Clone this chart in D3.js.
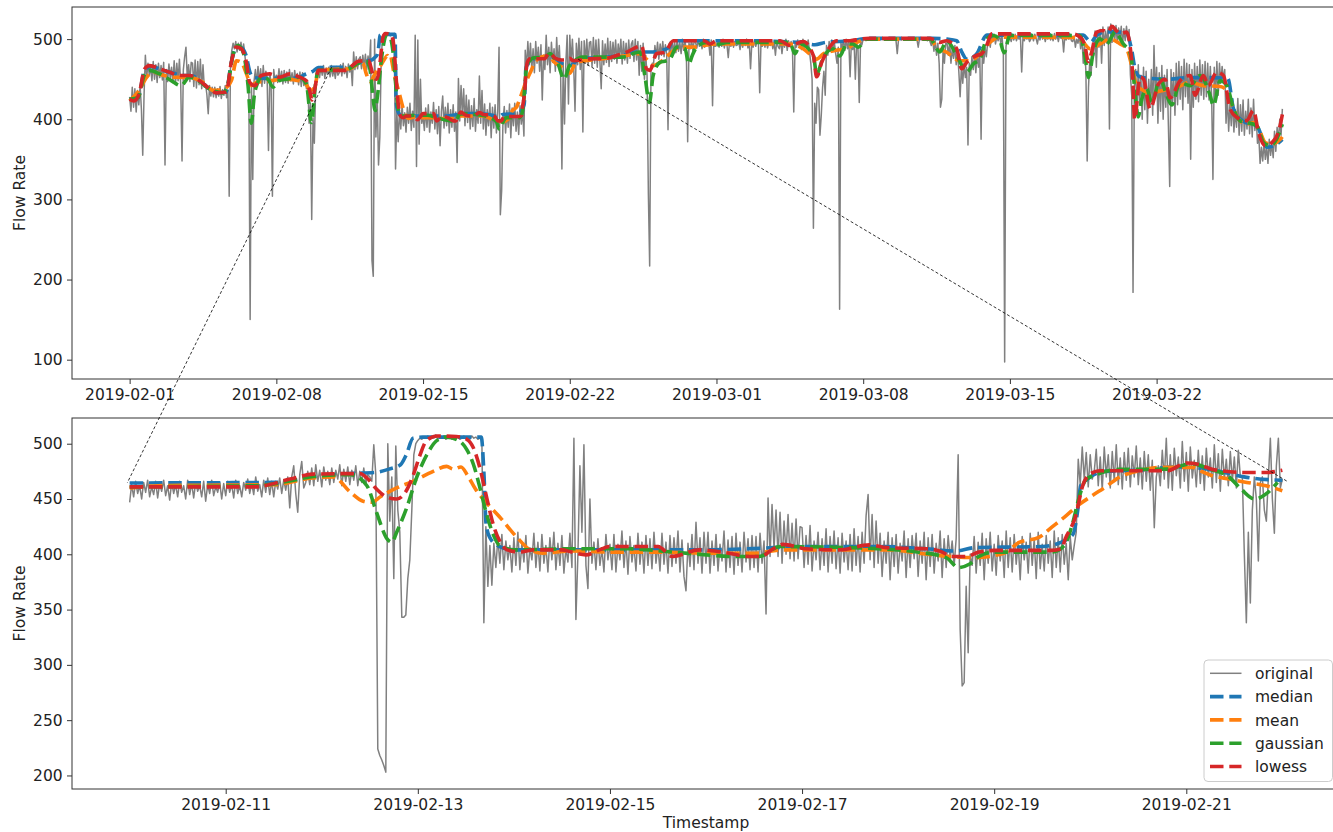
<!DOCTYPE html>
<html>
<head>
<meta charset="utf-8">
<script src="https://cdn.jsdelivr.net/npm/d3@7"></script>
<style>
  body { margin: 0; background: #fff; }
  svg { display: block; }
  text { font-family: "DejaVu Sans", sans-serif; }
</style>
</head>
<body>
<svg id="chart" width="1333" height="832"></svg>
<script>
// ---------------------------------------------------------------------------
// Flow-rate record, Feb 1 – Mar 28 2019, and four smoothed versions of it.
// ---------------------------------------------------------------------------
const recordStart = "2019-02-01";

// Full record, one reading every 1.5 hours (16 per day), Feb 1 00:00 .. Mar 28 00:00
const fullRaw = [
  428,410,440,415,438,409,436,418,442,412,355,430,480,452,470,455,
  466,448,472,450,468,446,470,452,467,449,471,343,462,447,469,451,
  465,446,473,444,470,448,475,443,348,462,478,490,452,468,447,471,
  470,441,474,439,472,443,475,438,468,440,444,430,407,442,429,440,
  428,440,427,438,429,441,426,437,430,442,427,436,304,470,486,495,
  488,497,484,495,486,496,483,494,480,462,445,438,150,444,325,448,
  462,444,466,446,463,441,467,445,460,448,361,458,444,304,462,447,
  455,446,463,447,460,444,461,446,459,445,462,448,458,444,461,447,
  457,443,459,441,458,442,450,438,446,395,420,275,402,370,440,458,
  463,452,466,455,467,451,464,456,465,453,467,454,463,451,466,455,
  458,468,454,470,457,466,452,469,459,467,442,484,462,478,463,475,
  478,463,480,465,481,462,479,466,499,224,204,500,378,430,343,378,
  470,503,506,504,507,505,508,504,506,505,507,338,410,372,412,388,
  418,392,408,384,415,395,420,386,410,390,505,341,499,369,450,395,
  405,386,414,390,418,384,409,395,421,388,412,382,416,367,410,429,
  389,415,392,420,383,412,390,418,385,409,346,451,398,442,405,438,
  392,430,396,424,388,417,391,426,385,412,395,454,395,436,388,419,
  380,412,392,420,377,415,389,418,383,410,490,281,311,398,416,383,
  411,390,419,377,414,392,420,385,409,381,417,394,412,379,486,463,
  497,468,495,462,488,458,497,470,490,460,493,424,480,462,505,468,
  490,458,496,471,488,460,502,466,492,457,338,470,394,470,505,419,
  505,470,500,466,410,495,468,501,462,497,384,498,470,500,467,496,
  497,466,502,470,499,465,500,472,438,498,468,494,471,501,466,497,
  472,496,475,499,470,494,477,500,469,497,474,495,470,499,476,494,
  498,472,500,474,497,455,492,460,495,450,480,455,307,217,460,470,
  470,492,478,496,475,494,480,497,478,493,481,387,495,482,497,484,
  497,483,499,485,496,482,500,486,498,484,372,495,488,499,486,498,
  496,489,499,491,497,488,500,490,498,492,497,480,499,417,498,491,
  492,499,490,497,491,500,489,498,493,477,498,491,499,490,497,492,
  493,497,487,499,490,498,492,500,489,497,463,496,490,499,491,498,
  497,433,497,491,499,490,498,489,496,492,499,488,496,480,498,491,
  488,499,482,497,490,500,486,498,491,497,489,409,495,490,499,492,
  498,487,500,490,497,488,499,485,470,450,264,420,395,440,437,380,
  405,440,460,430,492,480,497,485,499,488,496,482,470,490,163,495,
  490,499,486,500,488,498,453,497,487,499,450,495,489,421,498,493,
  500,499,501,500,499,501,500,499,501,500,499,500,501,499,500,501,
  500,501,499,500,501,500,499,501,500,499,482,500,501,499,500,501,
  500,499,501,500,501,499,500,501,499,500,490,501,500,499,501,500,
  500,498,501,497,492,500,485,498,480,495,470,415,425,488,470,495,
  495,480,497,470,488,476,492,468,485,460,428,466,445,470,452,465,
  368,470,455,478,462,480,458,482,465,484,375,485,470,490,478,495,
  498,490,505,497,506,494,503,498,506,495,504,480,97,490,505,499,
  502,497,505,499,506,498,504,500,505,459,504,498,506,500,503,497,
  500,505,498,506,501,494,504,499,506,500,505,497,504,500,507,499,
  503,498,507,500,505,497,506,501,504,484,505,499,506,500,504,498,
  497,504,490,500,495,506,488,502,470,495,460,348,440,475,455,490,
  480,510,465,508,490,512,470,515,492,510,495,515,388,519,496,517,
  498,517,495,514,500,516,493,513,498,516,500,512,455,430,184,440,
  462,405,468,420,455,400,465,412,460,395,450,418,462,405,492,430,
  465,395,458,410,467,400,455,415,462,392,316,462,420,458,405,470,
  418,472,425,466,412,475,428,470,420,468,350,462,415,470,425,466,
  422,474,430,468,425,472,428,470,424,466,430,325,465,428,472,430,
  470,445,466,450,462,395,428,385,420,392,425,384,412,390,426,380,
  418,385,424,380,410,388,425,382,414,378,425,386,405,370,380,345,
  365,348,372,350,366,345,375,355,370,352,385,360,390,372,400,380,
  413
];
const fullStepHours = 1.5;

// Detail window, one reading every 30 minutes (24 per row = 12 hours), Feb 10 00:00 .. Feb 22 00:00
const zoomStart = "2019-02-10";
const zoomEnd = "2019-02-22";
const zoomStepMinutes = 30;
const zoomRaw = [
  447,463,452,466,455,462,450,465,456,467,452,461,454,466,451,464,457,467,453,462,449,465,455,463,
  452,466,456,462,450,467,454,464,451,465,457,462,452,466,448,463,455,467,453,461,456,465,450,464,
  453,466,456,463,451,467,455,462,452,465,458,468,455,464,454,470,457,463,452,467,456,469,454,466,
  452,466,459,469,455,467,458,470,442,470,480,455,438,472,484,460,465,475,463,478,462,481,466,476,
  461,479,467,475,463,478,465,476,468,481,462,477,466,479,463,476,467,480,462,475,465,478,463,472,
  470,466,499,472,224,218,214,209,203,500,430,470,378,498,440,420,343,343,345,378,395,440,490,500,
  503,505,504,506,505,507,504,506,505,508,504,506,505,507,504,505,506,504,507,505,506,504,505,507,
  505,506,504,507,505,506,504,505,506,338,425,371,408,372,410,388,415,392,418,386,412,395,408,384,
  415,390,420,386,410,393,417,383,406,395,419,388,411,385,418,392,408,384,415,395,420,386,410,390,
  417,383,406,393,419,388,505,341,400,480,420,499,390,369,450,392,411,386,414,390,405,384,418,395,
  409,386,418,384,409,395,421,388,412,382,416,393,408,385,419,391,411,383,417,390,414,387,420,392,
  408,385,419,391,411,383,417,389,415,392,421,384,413,380,367,410,389,418,386,429,392,415,383,420,
  392,420,383,412,390,418,385,409,394,421,384,413,388,416,382,419,390,411,384,420,393,414,386,417,
  388,416,384,419,392,412,346,451,398,445,405,440,398,438,392,430,400,436,396,428,394,432,396,425,
  424,388,417,391,426,385,412,395,420,386,414,390,423,384,416,392,421,387,415,383,419,393,412,386,
  418,385,423,390,416,384,420,392,435,454,395,436,388,430,392,419,380,412,392,420,377,415,389,418,
  383,410,394,421,379,414,388,417,396,419,380,412,392,420,377,415,389,418,383,410,394,421,379,414,
  388,417,396,412,390,414,490,332,281,284,371,311,400,390,416,383,411,390,419,377,414,392,420,385,
  409,381,417,394,412,379,421,388,415,384,418,391,410,377,416,395,411,383,419,390,414,378,420,387,
  409,385,417,392,412,379,421,388,415,384,418,391,410,377,416,395,408,420,486,463,497,468,492,461,
  490,468,475,495,462,488,458,497,470,490,460,493,466,499,463,487,459,492,467,496,461,489,470,498,
  463,487,459,493,466,490,458,485,424,470,480,462,494,468,505,460,490,458,496,471,488,460,502,466,
  492,457,497,469,485,461,494,464,489,458,496,470,487,460,499,465,491,457,495,468,486,462,493,466,
  488,460,494,470,470,400,338,420,356,440,470,450,394,465,470,440,430,470,505,450,419,480,505,460,
  468
];

// Smoothed curves: [days since Feb 1, flow rate]
const median = [
  [0,425],[0.4,427],[0.7,460],[1.0,466],[1.5,462],[2.0,458],[2.5,455],[3.0,454],[3.4,447],[3.8,438],
  [4.2,433],[4.6,434],[4.85,471],[5.1,490],[5.35,489],[5.55,480],[5.75,458],[5.9,452],[6.5,451],[7.2,451],
  [8.1,452],[8.3,455],[8.75,460],[9.0,464.5],[10.5,465],[11.0,471],[11.3,473],[11.55,474],[11.7,477],[11.82,481],
  [11.88,490],[11.95,505],[12.05,506],[12.66,506],[12.69,470],[12.71,428],[12.75,415],[12.85,407],[13.0,404],[14.0,404],
  [15.0,404],[15.7,406],[16.0,407],[16.8,407],[17.3,405],[17.6,403],[17.8,406],[18.5,407],[18.67,410],[18.82,418],
  [18.87,440],[18.9,462],[18.97,468],[19.15,475],[19.5,476],[19.9,479],[20.3,476],[20.6,470],[20.85,467.5],[21.0,467],
  [21.5,476],[22.5,477],[23.5,480],[24.3,484],[24.8,484],[25.4,486],[25.75,490],[25.9,498],[27.0,498],[28.0,498],
  [30.0,498],[31.0,497],[32.0,496],[32.7,493],[33.2,496],[34.5,498],[35.2,501],[38.3,501],[39.0,500],[39.46,498],
  [39.7,484],[39.94,475],[40.4,481],[40.9,505],[45.5,505],[45.7,500],[45.85,496],[46.15,505],[46.6,509],[47.1,509],
  [47.57,507],[47.8,488],[47.97,463],[48.2,453],[48.7,451],[49.6,450],[50.5,452],[51.5,452],[52.4,451],[52.67,413],
  [53.1,398],[53.8,391],[54.05,376],[54.26,365],[54.6,367],[55.0,375]
];
const mean = [
  [0,423],[0.45,436],[0.8,452],[1.1,459],[1.6,455],[2.2,452.5],[2.9,452],[3.5,446],[4.0,436],[4.5,438],
  [4.85,448],[5.1,473],[5.33,471],[5.57,457],[5.8,442],[6.05,446],[6.7,448],[7.3,450],[8.1,448],[8.4,444],
  [8.65,436],[8.85,442],[9.0,460],[9.3,462],[10.5,463],[10.9,469],[11.12,470],[11.3,456],[11.43,448],[11.52,447],
  [11.61,452],[11.78,460],[11.95,466],[12.16,475],[12.3,479.5],[12.37,477],[12.45,479],[12.52,471],[12.6,459],[12.68,450],
  [12.85,434],[13.03,415.5],[13.17,404],[13.3,401],[13.6,403],[14.0,402],[14.5,402],[15.0,401],[15.5,401],[15.8,404],
  [16.9,404],[17.3,400],[17.8,397],[18.1,401],[18.26,410.7],[18.47,415.5],[18.6,424.5],[18.75,435],[18.88,444.7],[19.02,453],
  [19.17,461.5],[19.3,469.6],[19.51,475.6],[19.75,478.6],[20.07,478.6],[20.14,475.6],[20.27,471],[20.45,468],[20.63,465],[20.83,462],
  [21.0,457.5],[21.3,471],[22.4,475],[23.7,479.6],[24.35,481.7],[24.66,475],[24.98,467],[25.3,471],[25.78,481.7],[26.25,490],
  [26.9,490],[27.4,492],[28.0,494],[30.5,494],[31.5,494],[32.14,488],[32.62,477.5],[32.78,475],[33.1,481.7],[33.7,486],
  [34.2,488],[34.7,496],[35.2,500],[38.2,500],[38.5,490],[38.98,483.7],[39.62,473],[40.1,473],[40.57,481.6],[41.05,496],
  [41.5,502.5],[45.0,502],[45.5,496],[45.82,488],[46.3,494],[46.78,500],[47.26,494],[47.57,488],[47.81,467],[48.05,442],
  [48.37,436],[48.69,431],[49.0,434],[49.5,437],[49.96,440],[50.6,446],[51.23,442],[52.03,441],[52.35,436],[52.67,413],
  [52.98,398],[53.3,394],[53.62,396],[53.94,384],[54.18,371],[54.5,369],[54.9,375],[55.0,378]
];
const gaussian = [
  [0,425],[0.4,427],[0.7,455],[0.95,461],[1.4,457],[2.0,448],[2.45,442],[2.85,452.5],[3.3,448],[3.8,438],
  [4.45,433],[4.69,444],[4.93,480],[5.17,492],[5.41,484],[5.65,442],[5.8,395],[5.95,430],[6.1,445],[6.3,452.5],
  [6.6,450],[6.84,440],[7.1,448],[7.5,450],[8.1,452.5],[8.43,444],[8.68,396],[8.85,440],[9.0,461],[10.3,462],
  [11.0,471],[11.3,472],[11.47,462],[11.57,438],[11.68,414],[11.73,411],[11.78,420],[11.88,441],[11.99,470],[12.1,491],
  [12.2,503],[12.3,506],[12.44,502],[12.51,494.6],[12.58,481],[12.65,459],[12.72,435],[12.79,417],[12.85,408],[13.0,404],
  [13.6,405],[14.2,405],[14.65,402],[15.35,398],[15.55,398],[15.77,407],[16.5,406],[17.2,402],[17.5,397],[17.63,388],
  [17.74,391],[17.84,398],[18.0,402],[18.6,402],[18.73,408],[18.81,426],[18.88,450],[18.95,467],[19.06,472],[19.3,476.8],
  [19.8,477],[20.06,482],[20.24,477],[20.43,471],[20.57,459],[20.71,450],[20.85,456],[20.95,465],[21.16,471],[21.6,477.5],
  [23.5,477.5],[24.35,484],[24.58,454.6],[24.8,421],[24.98,454.6],[25.3,471],[25.6,473],[25.8,476],[26.1,490],[26.5,488],
  [26.68,469],[26.85,480],[27.05,490],[27.53,496],[27.85,492],[28.5,496],[31.5,496],[31.74,481.7],[32.0,494],[32.62,479.6],
  [32.78,456.6],[33.1,477.5],[33.57,488],[33.89,479],[34.21,494],[34.5,494],[34.77,490],[35.16,500],[38.19,500],[38.66,484],
  [38.98,498],[39.46,480],[39.94,459],[40.25,469],[40.57,475.4],[40.89,500],[41.21,504.6],[41.5,500],[41.72,483],[42.0,504.6],
  [45.35,504.6],[45.58,479.6],[45.75,452],[45.98,483.7],[46.3,500.4],[46.62,494],[47.02,508.7],[47.41,494],[47.73,483.7],[47.89,454.6],
  [48.05,413],[48.12,403],[48.29,425],[48.53,438],[48.77,421],[49.16,450],[49.48,430],[49.72,418],[50.12,446],[50.6,442],
  [51.07,454.6],[51.55,430],[51.71,417],[52.03,448],[52.35,442],[52.67,413],[52.98,398],[53.3,396],[53.78,392],[54.1,371],
  [54.42,367],[54.73,375.4],[55.0,394]
];
const lowess = [
  [0,425],[0.2,423],[0.45,431.6],[0.72,463],[0.95,467],[1.43,463],[1.91,458.7],[2.39,454.6],[2.86,454.6],[3.34,448],
  [3.82,438],[4.14,433],[4.61,434],[4.85,471],[5.09,490],[5.33,488],[5.57,471],[5.73,446],[5.97,442],[6.28,454.6],
  [6.68,456.6],[7.16,452.5],[7.64,456.6],[8.11,452.5],[8.43,448],[8.59,436],[8.7,424],[8.85,440],[9.0,461],[10.3,461],
  [10.67,468],[10.91,472.5],[11.4,473],[11.47,469],[11.57,459],[11.68,451.6],[11.78,450],[11.87,456],[11.95,471],[12.02,489],
  [12.09,502.7],[12.2,507],[12.4,506.5],[12.51,504],[12.58,496],[12.65,476.8],[12.72,450],[12.79,425.5],[12.86,410.7],[12.93,404],
  [13.06,402],[13.2,404],[13.5,404],[13.6,402],[13.75,399.5],[13.89,404],[14.0,407],[14.5,407],[14.65,398],[14.93,404],
  [15.17,402],[15.45,398],[15.57,398],[15.7,405],[15.8,409],[16.04,405],[16.39,404],[16.7,408.5],[16.88,406],[17.3,405],
  [17.43,403],[17.57,398],[17.71,398],[17.84,402],[18.0,403.5],[18.6,403.5],[18.7,405],[18.74,414],[18.85,435],[18.92,461.7],
  [18.99,472],[19.1,475.6],[19.8,475.6],[20.0,482.5],[20.14,481],[20.27,476.8],[20.62,474],[20.83,474],[21.0,476],[21.16,473],
  [21.96,475.4],[22.75,476],[23.23,479.6],[23.71,483.7],[24.19,490],[24.43,492],[24.66,463],[24.82,461],[25.14,481.7],[25.54,483.7],
  [25.94,498],[27.4,498],[27.69,494],[28.0,498],[31.03,498],[31.5,492],[32.14,497],[32.62,479.6],[32.78,453],[33.02,471],
  [33.26,483.7],[33.73,498],[34.37,498],[34.85,500],[35.3,501],[38.19,501],[38.66,496],[38.98,498],[39.46,488],[39.7,463],
  [39.94,471],[40.41,479.6],[40.65,481.6],[40.89,492],[41.13,506.6],[45.0,506.6],[45.35,502.5],[45.58,492],[45.74,472],[45.9,483.7],
  [46.14,508.7],[46.46,510.8],[46.7,508.7],[46.86,516],[47.1,510],[47.26,506.6],[47.57,508.7],[47.73,492],[47.85,458.7],[47.95,400],
  [48.21,452.5],[48.37,450.4],[48.69,413],[49.09,444],[49.4,450],[49.64,427],[50.12,448],[50.6,454.6],[50.84,430],[51.23,454.6],
  [51.47,442],[51.87,458.7],[52.19,454.6],[52.5,413],[52.82,402.5],[53.3,398.3],[53.62,411],[53.86,383.7],[54.18,367],[54.5,371],
  [54.81,383.7],[55.0,406]
];

const seriesNames = ["original", "median", "mean", "gaussian", "lowess"];
const topTickDates = ["2019-02-01","2019-02-08","2019-02-15","2019-02-22","2019-03-01","2019-03-08","2019-03-15","2019-03-22"];
const bottomTickDates = ["2019-02-11","2019-02-13","2019-02-15","2019-02-17","2019-02-19","2019-02-21"];
const topYTicks = [100, 200, 300, 400, 500];
const bottomYTicks = [200, 250, 300, 350, 400, 450, 500];
const yTitle = "Flow Rate";
const xTitle = "Timestamp";

// Inset guide lines: [days since Feb 1, value] in the overview, then in the detail panel
const insetLinks = [
  { overview: [9.64, 465], detail: [8.975, 464.5] },
  { overview: [21.4, 475], detail: [21.05, 466] }
];

// ---------------------------------------------------------------------------
const DAY = 864e5;
const t0 = Date.parse(recordStart + "T00:00:00Z");
const atDay = d => new Date(t0 + d * DAY);
const parseDay = s => new Date(Date.parse(s + "T00:00:00Z"));

const colors = {
  original: "#808080",
  median: "#1f77b4",
  mean: "#ff7f0e",
  gaussian: "#2ca02c",
  lowess: "#d62728"
};
const FONT = 15.5;
const DASH = "13.5,5.8";
const SMOOTH_W = 3.6;
const RAW_W = 1.5;

const svg = d3.select("#chart");
const defs = svg.append("defs");

const toPts = pairs => pairs.map(([d, v]) => ({ t: atDay(d), v }));
const smoothed = {
  median: toPts(median),
  mean: toPts(mean),
  gaussian: toPts(gaussian),
  lowess: toPts(lowess)
};

const fullSeries = {
  original: fullRaw.map((v, i) => ({ t: atDay(i * fullStepHours / 24), v })),
  ...smoothed
};

const zs = parseDay(zoomStart), ze = parseDay(zoomEnd);
const zoomSeries = {
  original: zoomRaw.map((v, i) => ({ t: new Date(+zs + i * zoomStepMinutes * 6e4), v }))
};
for (const k of ["median", "mean", "gaussian", "lowess"]) {
  zoomSeries[k] = smoothed[k].filter(p => p.t >= zs && p.t <= ze);
}

function drawPanel(cfg, id) {
  const g = svg.append("g");
  const all = Object.values(cfg.series).flat();
  const [ta, tb] = d3.extent(all, p => +p.t);
  const pt = (tb - ta) * 0.05;
  const x = d3.scaleUtc().domain([new Date(ta - pt), new Date(tb + pt)]).range([cfg.left, cfg.right]);
  const [va, vb] = d3.extent(all, p => p.v);
  const pv = (vb - va) * 0.05;
  const y = d3.scaleLinear().domain([va - pv, vb + pv]).range([cfg.bottom, cfg.top]);

  defs.append("clipPath").attr("id", id)
    .append("rect").attr("x", cfg.left).attr("y", cfg.top)
    .attr("width", cfg.right - cfg.left).attr("height", cfg.bottom - cfg.top);

  const plot = g.append("g").attr("clip-path", `url(#${id})`);

  const rawLine = d3.line().x(p => x(p.t)).y(p => y(p.v));
  plot.append("path")
    .datum(cfg.series.original)
    .attr("d", rawLine)
    .attr("fill", "none")
    .attr("stroke", colors.original)
    .attr("stroke-width", RAW_W)
    .attr("stroke-linejoin", "round");

  const smoothLine = d3.line().x(p => x(p.t)).y(p => y(p.v)).curve(d3.curveMonotoneX);
  for (const k of ["median", "mean", "gaussian", "lowess"]) {
    plot.append("path")
      .datum(cfg.series[k])
      .attr("d", smoothLine)
      .attr("fill", "none")
      .attr("stroke", colors[k])
      .attr("stroke-width", SMOOTH_W)
      .attr("stroke-dasharray", DASH);
  }

  // frame
  g.append("rect")
    .attr("x", cfg.left).attr("y", cfg.top)
    .attr("width", cfg.right - cfg.left).attr("height", cfg.bottom - cfg.top)
    .attr("fill", "none").attr("stroke", "#333").attr("stroke-width", 1);

  const xa = g.append("g")
    .attr("transform", `translate(0,${cfg.bottom})`)
    .call(d3.axisBottom(x).tickValues(cfg.xTicks.map(parseDay))
      .tickFormat(d3.utcFormat("%Y-%m-%d")).tickSize(5).tickPadding(5).tickSizeOuter(0));
  const ya = g.append("g")
    .attr("transform", `translate(${cfg.left},0)`)
    .call(d3.axisLeft(y).tickValues(cfg.yTicks).tickSize(5).tickPadding(4.3).tickSizeOuter(0));
  for (const a of [xa, ya]) {
    a.select(".domain").remove();
    a.attr("font-family", null).attr("font-size", null);
    a.selectAll(".tick line").attr("stroke", "#333").attr("stroke-width", 1);
    a.selectAll(".tick text").attr("fill", "#222").style("font-size", FONT + "px");
  }

  g.append("text")
    .attr("transform", `translate(25,${(cfg.top + cfg.bottom) / 2}) rotate(-90)`)
    .attr("text-anchor", "middle")
    .attr("fill", "#222")
    .style("font-size", FONT + "px")
    .text(yTitle);

  return { x, y, g };
}

const overview = drawPanel({
  series: fullSeries, left: 72, right: 1340, top: 7, bottom: 379,
  xTicks: topTickDates, yTicks: topYTicks
}, "clip-overview");

const detail = drawPanel({
  series: zoomSeries, left: 72, right: 1340, top: 418, bottom: 789,
  xTicks: bottomTickDates, yTicks: bottomYTicks
}, "clip-detail");

svg.append("text")
  .attr("x", (72 + 1340) / 2).attr("y", 827.5)
  .attr("text-anchor", "middle").attr("fill", "#222")
  .style("font-size", FONT + "px")
  .text(xTitle);

// Legend (lower right of the detail panel)
const leg = detail.g.append("g");
const legX = 1204, legY = 660, rowH = 23.3;
leg.append("rect")
  .attr("x", legX).attr("y", legY).attr("width", 128.5).attr("height", 121.5)
  .attr("rx", 4).attr("fill", "#fff").attr("fill-opacity", 0.8)
  .attr("stroke", "#ccc").attr("stroke-width", 1);
seriesNames.forEach((name, i) => {
  const cy = legY + 13.3 + i * rowH;
  leg.append("line")
    .attr("x1", legX + 6).attr("x2", legX + 37.5)
    .attr("y1", cy).attr("y2", cy)
    .attr("stroke", colors[name])
    .attr("stroke-width", name === "original" ? RAW_W : SMOOTH_W)
    .attr("stroke-dasharray", name === "original" ? null : DASH);
  leg.append("text")
    .attr("x", legX + 51).attr("y", cy + 5.6)
    .attr("fill", "#222").style("font-size", FONT + "px")
    .text(name);
});

// Guide lines joining the detail window to its place in the overview
const links = svg.append("g");
for (const l of insetLinks) {
  links.append("line")
    .attr("x1", overview.x(atDay(l.overview[0]))).attr("y1", overview.y(l.overview[1]))
    .attr("x2", detail.x(atDay(l.detail[0]))).attr("y2", detail.y(l.detail[1]))
    .attr("stroke", "#000").attr("stroke-width", 0.8)
    .attr("stroke-dasharray", "3,2.2");
}
</script>
</body>
</html>
